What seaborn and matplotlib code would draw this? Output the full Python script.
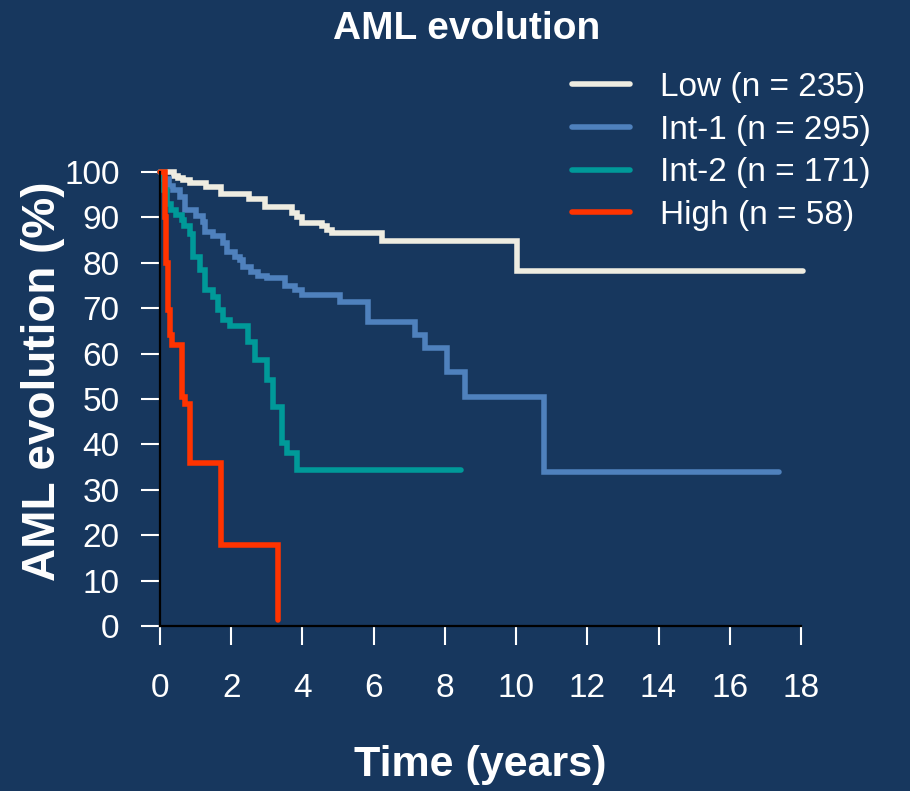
import seaborn as sns
import matplotlib.pyplot as plt
import pandas as pd

# Kaplan-Meier style step data (time in years, % without AML evolution)
groups = ["Low (n = 235)", "Int-1 (n = 295)", "Int-2 (n = 171)", "High (n = 58)"]
colors = ["#EEECE1", "#4F81BD", "#009999", "#FF3300"]

low_t = [0, 0.4, 0.5, 0.65, 0.85, 1.3, 1.7, 2.5, 2.95, 3.7, 3.85, 4.0, 4.55, 4.7, 4.82, 6.23, 10.02, 18.05]
low_v = [100, 99.2, 98.6, 98.2, 97.6, 96.8, 95.1, 94.0, 92.2, 91.0, 90.0, 88.7, 88.0, 87.2, 86.6, 84.7, 78.3, 78.3]

int1_t = [0, 0.12, 0.25, 0.37, 0.55, 0.7, 1.0, 1.22, 1.26, 1.5, 1.78, 1.87, 2.1, 2.25, 2.34, 2.55,
          2.75, 3.0, 3.51, 3.8, 3.98, 5.06, 5.85, 7.16, 7.44, 8.05, 8.57, 10.77, 17.37]
int1_v = [100, 98.5, 97, 96, 94.6, 91.6, 90.3, 89, 86.8, 85.8, 84.3, 82.4, 81.3, 80.6, 79.1, 78.0,
          77.2, 76.6, 74.9, 74.0, 73.0, 71.4, 67.0, 64.1, 61.2, 56.0, 50.5, 34.0, 34.0]

int2_t = [0, 0.1, 0.2, 0.3, 0.45, 0.61, 0.66, 0.84, 0.94, 1.12, 1.26, 1.49, 1.63, 1.77, 1.97, 2.48,
          2.67, 3.0, 3.18, 3.42, 3.56, 3.84, 8.45]
int2_v = [100, 96, 93, 91.6, 90.6, 89.4, 88.0, 86.3, 81.3, 78.4, 74.0, 72.5, 69.5, 67.4, 66.0, 62.6,
          58.6, 54.2, 48.3, 40.2, 38.0, 34.4, 34.4]

high_t = [0, 0.14, 0.18, 0.23, 0.28, 0.33, 0.61, 0.7, 0.84, 1.70, 3.32]
high_v = [100, 90, 80, 69.6, 64, 62.0, 50.5, 49.0, 36.0, 17.8, 1.3]

times = [low_t, int1_t, int2_t, high_t]
values = [low_v, int1_v, int2_v, high_v]

df = pd.concat(
    [pd.DataFrame({"Time": t, "AML": v, "Group": g}) for g, t, v in zip(groups, times, values)],
    ignore_index=True,
)

bg = "#17375E"
sns.set_style("ticks")
plt.rcParams["font.family"] = ["Liberation Sans", "DejaVu Sans"]

fig = plt.figure(figsize=(9.1, 7.91), dpi=100, facecolor=bg)
ax = fig.add_axes([160 / 910, 1 - 626 / 791, 641 / 910, 454 / 791])
ax.set_facecolor(bg)

sns.lineplot(data=df, x="Time", y="AML", hue="Group", hue_order=groups, palette=colors,
             drawstyle="steps-post", estimator=None, sort=False, linewidth=4.0,
             legend=False, ax=ax)
for line in ax.lines:
    line.set_clip_on(False)
    line.set_solid_joinstyle("miter")

ax.set_xlim(0, 18)
ax.set_ylim(0, 100)
ax.set_xticks(range(0, 19, 2))
ax.set_yticks(range(0, 101, 10))

for side in ["top", "right"]:
    ax.spines[side].set_visible(False)
for side in ["left", "bottom"]:
    ax.spines[side].set_color("black")
    ax.spines[side].set_linewidth(1.6)

ax.tick_params(axis="both", colors="white", labelcolor="white", labelsize=24,
               length=14, width=1.5, direction="out")
ax.tick_params(axis="x", pad=20)
ax.tick_params(axis="y", pad=15)

ax.set_xlabel("Time (years)", fontsize=31, fontweight="bold", color="white")
ax.set_ylabel("AML evolution (%)", fontsize=33, fontweight="bold", color="white")
ax.xaxis.set_label_coords(0.5, -0.262)
ax.yaxis.set_label_coords(-0.148, 0.54)

fig.suptitle("AML evolution", x=467 / 910, y=1 - 29 / 791, va="center",
             fontsize=28, fontweight="bold", color="white")

ax.legend(ax.lines, groups, loc="upper left", bbox_to_anchor=(572 / 910, 1 - 72 / 791),
          bbox_transform=fig.transFigure, frameon=False, fontsize=24, labelcolor="white",
          handlelength=1.74, handletextpad=0.9, labelspacing=0.35, borderpad=0, borderaxespad=0)

plt.savefig("out.png", dpi=100, facecolor=bg)
